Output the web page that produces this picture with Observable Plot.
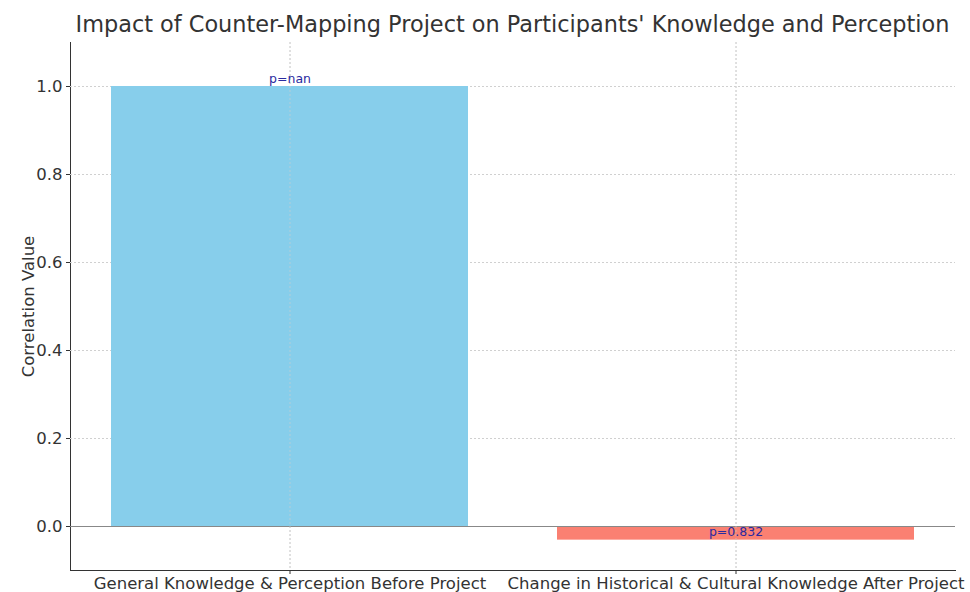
<!DOCTYPE html>
<html>
<head>
<meta charset="utf-8">
<script src="https://cdn.jsdelivr.net/npm/d3@7"></script>
<script src="https://cdn.jsdelivr.net/npm/@observablehq/plot@0.6"></script>
<style>
  html, body { margin: 0; padding: 0; background: #fff; }
  #wrap { width: 970px; height: 592px; overflow: hidden; font-family: "DejaVu Sans", sans-serif; }
  #title { height: 38px; width: 970px; box-sizing: border-box; padding-left: 70px; padding-right: 15px;
           text-align: center; font-size: 22.4px; color: #333; line-height: 48px; white-space: nowrap; }
  #chart svg [aria-label="x-axis line"], #chart svg [aria-label="y-axis line"] { stroke-width: 1.3; }
</style>
</head>
<body>
<div id="wrap">
  <div id="title">Impact of Counter-Mapping Project on Participants' Knowledge and Perception</div>
  <div id="chart"></div>
</div>
<script>
const categories = [
  "General Knowledge & Perception Before Project",
  "Change in Historical & Cultural Knowledge After Project"
];
const correlations = [1.0, -0.031];
const pLabels = ["p=nan", "p=0.832"];
const barColors = ["#87CEEB", "#FA8072"];
const yTicks = [0, 0.2, 0.4, 0.6, 0.8, 1.0];

const data = categories.map((c, i) => ({category: c, value: correlations[i], p: pLabels[i], color: barColors[i]}));

const chart = Plot.plot({
  width: 970,
  height: 554,
  marginLeft: 70,
  marginRight: 15,
  marginTop: 4,
  marginBottom: 22,
  style: {fontFamily: "DejaVu Sans, sans-serif", fontSize: "16.5px", color: "#333", background: "#fff", overflow: "visible"},
  x: {domain: categories, paddingInner: 0.2, paddingOuter: 0.09, label: null, tickSize: 4, tickPadding: 3, line: true},
  y: {domain: [-0.1, 1.1], ticks: yTicks, tickFormat: d3.format(".1f"), label: "Correlation Value",
      labelAnchor: "center", labelOffset: 48, labelArrow: "none", tickSize: 4, tickPadding: 4, line: true},
  marks: [
    Plot.gridY(yTicks, {stroke: "#d0d0d0", strokeOpacity: 1, strokeDasharray: "2,2"}),
    Plot.gridX({stroke: "#d0d0d0", strokeOpacity: 1, strokeDasharray: "2,2"}),
    Plot.barY(data, {x: "category", y: "value", fill: "color"}),
    Plot.ruleY([0], {stroke: "#888", strokeWidth: 1}),
    Plot.gridX({stroke: "#d0d0d0", strokeOpacity: 0.6, strokeDasharray: "2,2"}),
    Plot.text(data, {x: "category", y: "value", text: "p", lineAnchor: "bottom", dy: -4,
                     fill: "#2a2aa0", fontSize: 12.5})
  ]
});
document.getElementById("chart").appendChild(chart);
</script>
</body>
</html>
